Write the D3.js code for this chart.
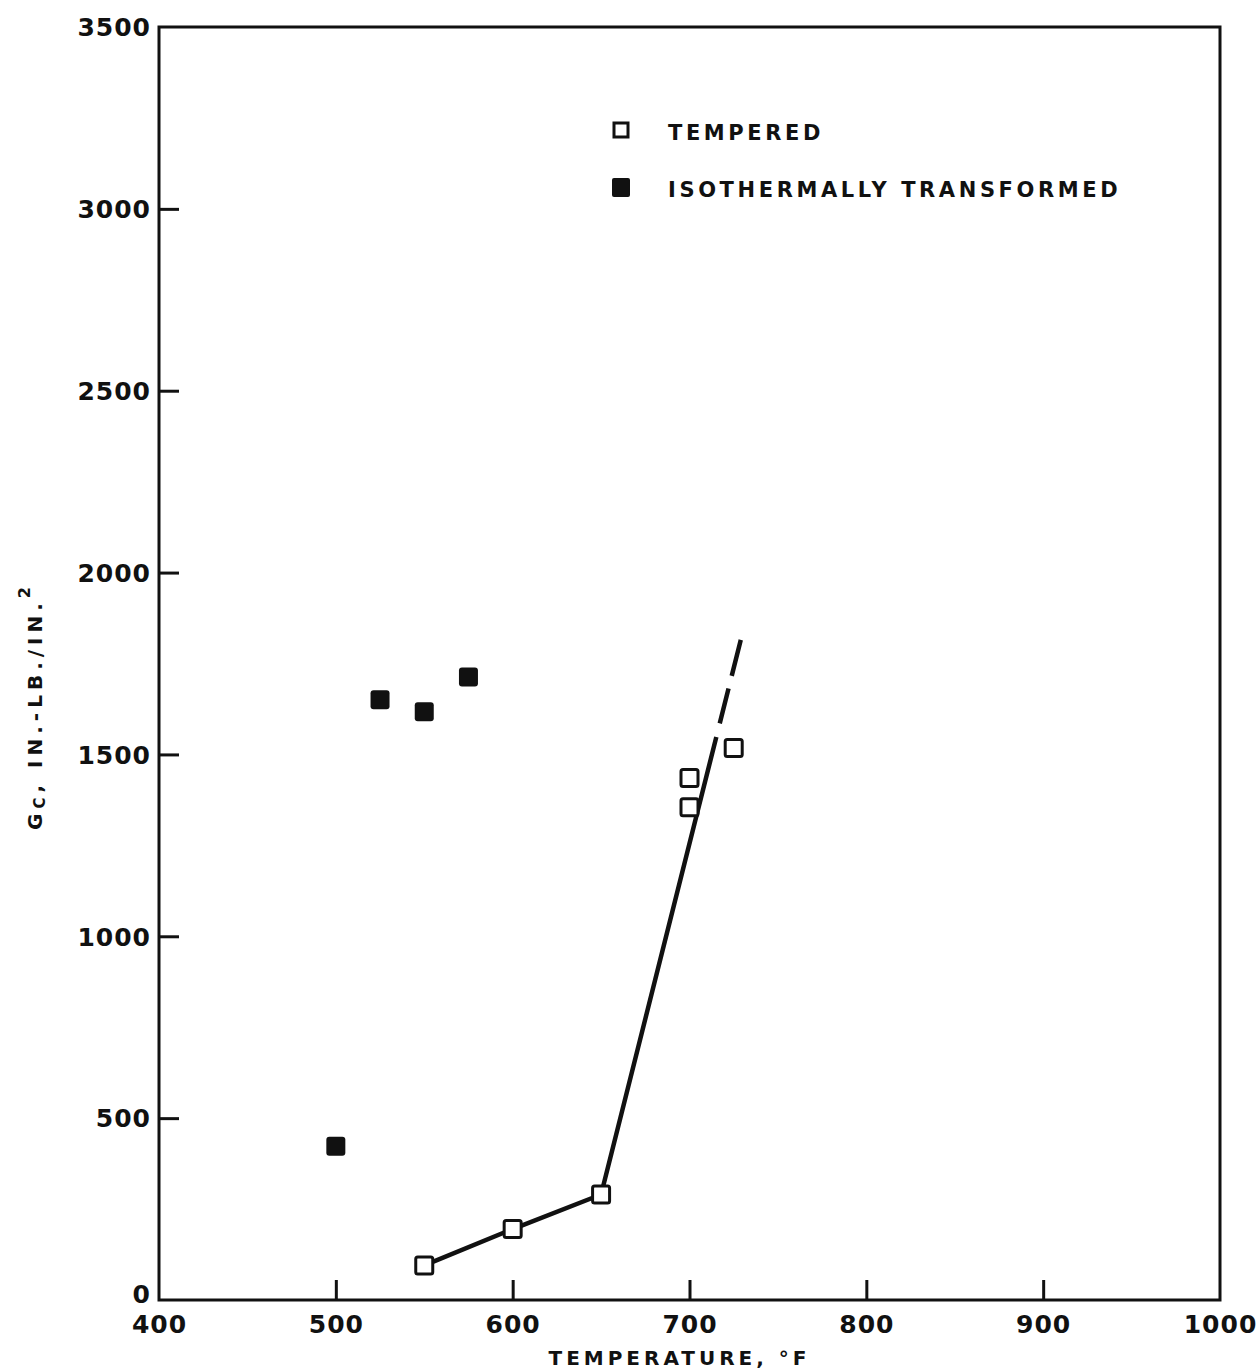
<html>
<head>
  <title>Gc vs temperature</title>
  <script src="https://d3js.org/d3.v7.min.js"></script>
  <style>
    body { margin: 0; background: #fff; }
    text { font-family: "DejaVu Sans", sans-serif; font-weight: bold; fill: #111; }
  </style>
</head>
<body>
  <script>
// tempered specimens (open squares)
var temperedT = [550, 600, 650, 700, 700, 725];
var temperedG = [95, 195, 290, 1435, 1355, 1518];
// isothermally transformed (filled squares)
var isoT = [500, 525, 550, 575];
var isoG = [423, 1650, 1617, 1713];
// fitted curve through the tempered data
var fitT = [550, 600, 650, 729];
var fitG = [95, 195, 290, 1815];
var solidTo = 1548;   // line turns dashed above this Gc

var xTicks = [400, 500, 600, 700, 800, 900, 1000];
var yTicks = [0, 500, 1000, 1500, 2000, 2500, 3000, 3500];

var width = 1258, height = 1372;
var svg = d3.select("body").append("svg")
  .attr("width", width)
  .attr("height", height);

var x = d3.scaleLinear().domain([400, 1000]).range([159, 1220]);
var y = d3.scaleLinear().domain([0, 3500]).range([1300, 27]);

// frame
svg.append("rect")
  .attr("x", x(400)).attr("y", y(3500))
  .attr("width", x(1000) - x(400)).attr("height", y(0) - y(3500))
  .attr("fill", "none").attr("stroke", "#111").attr("stroke-width", 3);

// bottom axis, ticks pointing inward
var xAxis = svg.append("g")
  .attr("transform", "translate(0," + y(0) + ")")
  .call(d3.axisBottom(x).tickValues(xTicks).tickFormat(d3.format("d"))
    .tickSizeInner(-20).tickSizeOuter(0).tickPadding(10));
xAxis.select(".domain").remove();
xAxis.selectAll(".tick line").attr("stroke", "#111").attr("stroke-width", 3)
  .filter(function(d){ return d == 400 || d == 1000; }).remove();
xAxis.selectAll(".tick text")
  .attr("dy", "0.9em")
  .style("font-size", "25px").style("letter-spacing", "1px");

// left axis
var yAxis = svg.append("g")
  .attr("transform", "translate(" + x(400) + ",0)")
  .call(d3.axisLeft(y).tickValues(yTicks).tickFormat(d3.format("d"))
    .tickSizeInner(-20).tickSizeOuter(0).tickPadding(8));
yAxis.select(".domain").remove();
yAxis.selectAll(".tick line").attr("stroke", "#111").attr("stroke-width", 3)
  .filter(function(d){ return d == 0 || d == 3500; }).remove();
yAxis.selectAll(".tick text")
  .style("font-size", "25px").style("letter-spacing", "1px")
  .attr("dy", function(d){ return d == 0 ? "0.1em" : "0.35em"; });

// axis titles
svg.append("text")
  .attr("x", (x(400) + x(1000)) / 2 - 10).attr("y", 1365)
  .attr("text-anchor", "middle")
  .style("font-size", "20px").style("letter-spacing", "4px")
  .text("TEMPERATURE, \u00B0F");

var yl = svg.append("text")
  .attr("transform", "translate(42,706) rotate(-90)")
  .attr("text-anchor", "middle")
  .style("font-size", "20px").style("letter-spacing", "5px");
yl.append("tspan").text("G");
yl.append("tspan").style("font-size", "15px").attr("dy", 3).text("C");
yl.append("tspan").attr("dy", -3).text(", IN.-LB./IN.");
yl.append("tspan").style("font-size", "16px").attr("dy", -12).text("2");

// fitted line: solid part then dashed extension
var fit = fitT.map(function(t, i){ return [t, fitG[i]]; });
var last = fit[fit.length - 1], prev = fit[fit.length - 2];
var f = (solidTo - prev[1]) / (last[1] - prev[1]);
var brk = [prev[0] + f * (last[0] - prev[0]), solidTo];
var line = d3.line().x(function(d){ return x(d[0]); }).y(function(d){ return y(d[1]); });

svg.append("path")
  .datum(fit.slice(0, fit.length - 1).concat([brk]))
  .attr("d", line)
  .attr("fill", "none").attr("stroke", "#111").attr("stroke-width", 4.5)
  .attr("stroke-linejoin", "round");
svg.append("path")
  .datum([brk, last])
  .attr("d", line)
  .attr("fill", "none").attr("stroke", "#111").attr("stroke-width", 4.5)
  .attr("stroke-dasharray", "0 14 36 13 36");

// markers
var s = 17;
svg.append("g").selectAll("rect")
  .data(temperedT.map(function(t, i){ return [t, temperedG[i]]; }))
  .enter().append("rect")
  .attr("x", function(d){ return x(d[0]) - s / 2; })
  .attr("y", function(d){ return y(d[1]) - s / 2; })
  .attr("width", s).attr("height", s).attr("rx", 2)
  .attr("fill", "#fff").attr("stroke", "#111").attr("stroke-width", 3);

var sf = 19;
svg.append("g").selectAll("rect")
  .data(isoT.map(function(t, i){ return [t, isoG[i]]; }))
  .enter().append("rect")
  .attr("x", function(d){ return x(d[0]) - sf / 2; })
  .attr("y", function(d){ return y(d[1]) - sf / 2; })
  .attr("width", sf).attr("height", sf).attr("rx", 3)
  .attr("fill", "#111");

// legend
var legend = svg.append("g");
legend.append("rect").attr("x", 614).attr("y", 123).attr("width", 14).attr("height", 14)
  .attr("fill", "#fff").attr("stroke", "#111").attr("stroke-width", 3);
legend.append("rect").attr("x", 612).attr("y", 178).attr("width", 18).attr("height", 19)
  .attr("rx", 2).attr("fill", "#111");
legend.append("text").attr("x", 668).attr("y", 140)
  .style("font-size", "21px").style("letter-spacing", "3.6px").text("TEMPERED");
legend.append("text").attr("x", 668).attr("y", 197)
  .style("font-size", "21px").style("letter-spacing", "3.6px").text("ISOTHERMALLY TRANSFORMED");
  </script>
</body>
</html>
